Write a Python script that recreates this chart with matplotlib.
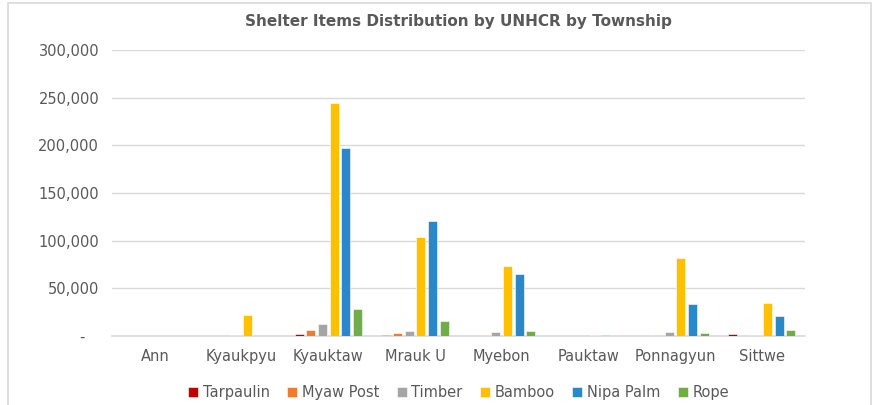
import numpy as np
import matplotlib
matplotlib.use("Agg")
import matplotlib.pyplot as plt
from matplotlib.ticker import FuncFormatter
from matplotlib.patches import Rectangle

# township data
townships = ["Ann", "Kyaukpyu", "Kyauktaw", "Mrauk U", "Myebon",
             "Pauktaw", "Ponnagyun", "Sittwe"]
tarpaulin = [400, 300, 1800, 900, 600, 400, 400, 1900]
myaw_post = [200, 500, 6500, 3500, 1600, 200, 1600, 700]
timber = [200, 1200, 13000, 5500, 4000, 500, 4500, 1700]
bamboo = [0, 22000, 244000, 104000, 73500, 1700, 82000, 34500]
nipa_palm = [0, 300, 197000, 120500, 65000, 1700, 33500, 21000]
rope = [0, 400, 28500, 16000, 5500, 600, 3800, 6000]

series = [("Tarpaulin", tarpaulin, "#C00000"),
          ("Myaw Post", myaw_post, "#ED7D31"),
          ("Timber", timber, "#A5A5A5"),
          ("Bamboo", bamboo, "#FFC000"),
          ("Nipa Palm", nipa_palm, "#2A88C8"),
          ("Rope", rope, "#70AD47")]

plt.rcParams['font.family'] = ['DejaVu Sans']
txt = "#595959"

fig = plt.figure(figsize=(8.79, 4.05), dpi=100)
ax = fig.add_axes([0.127, 0.170, 0.789, 0.707])

# chart frame
fig.patches.append(Rectangle((0.009, -0.02), 0.982, 1.013, transform=fig.transFigure,
                             fill=False, edgecolor="#D9D9D9", lw=1.2))

x = np.arange(len(townships))
step = 0.134
w = 0.105
for i, (name, vals, col) in enumerate(series):
    ax.bar(x + (i - 2.5) * step, vals, w, color=col, label=name,
           edgecolor="white", linewidth=0.4, zorder=3)

ax.set_xlim(-0.5, len(townships) - 0.5)
ax.set_ylim(0, 300000)
ax.set_yticks(np.arange(0, 300001, 50000))
ax.yaxis.set_major_formatter(FuncFormatter(
    lambda v, p: "-   " if v == 0 else f"{int(v):,}"))
ax.set_xticks(x)
ax.set_xticklabels(townships)
ax.grid(axis="y", color="#D9D9D9", lw=1, zorder=0)
for s in ["top", "right", "left"]:
    ax.spines[s].set_visible(False)
ax.spines["bottom"].set_color("#D9D9D9")
ax.spines["bottom"].set_linewidth(1.2)
ax.tick_params(length=0, colors=txt, labelsize=10.5)
ax.tick_params(axis="x", pad=9)
ax.tick_params(axis="y", pad=9)

ax.set_title("Shelter Items Distribution by UNHCR by Township", color=txt,
             fontsize=11, fontweight="bold", pad=17)

ax.legend(loc="upper center", bbox_to_anchor=(0.5, -0.125), ncol=6, frameon=False,
          fontsize=10.5, labelcolor=txt, handlelength=0.7, handleheight=0.7,
          handletextpad=0.3, columnspacing=1.2)

fig.savefig("out.png", dpi=100)
